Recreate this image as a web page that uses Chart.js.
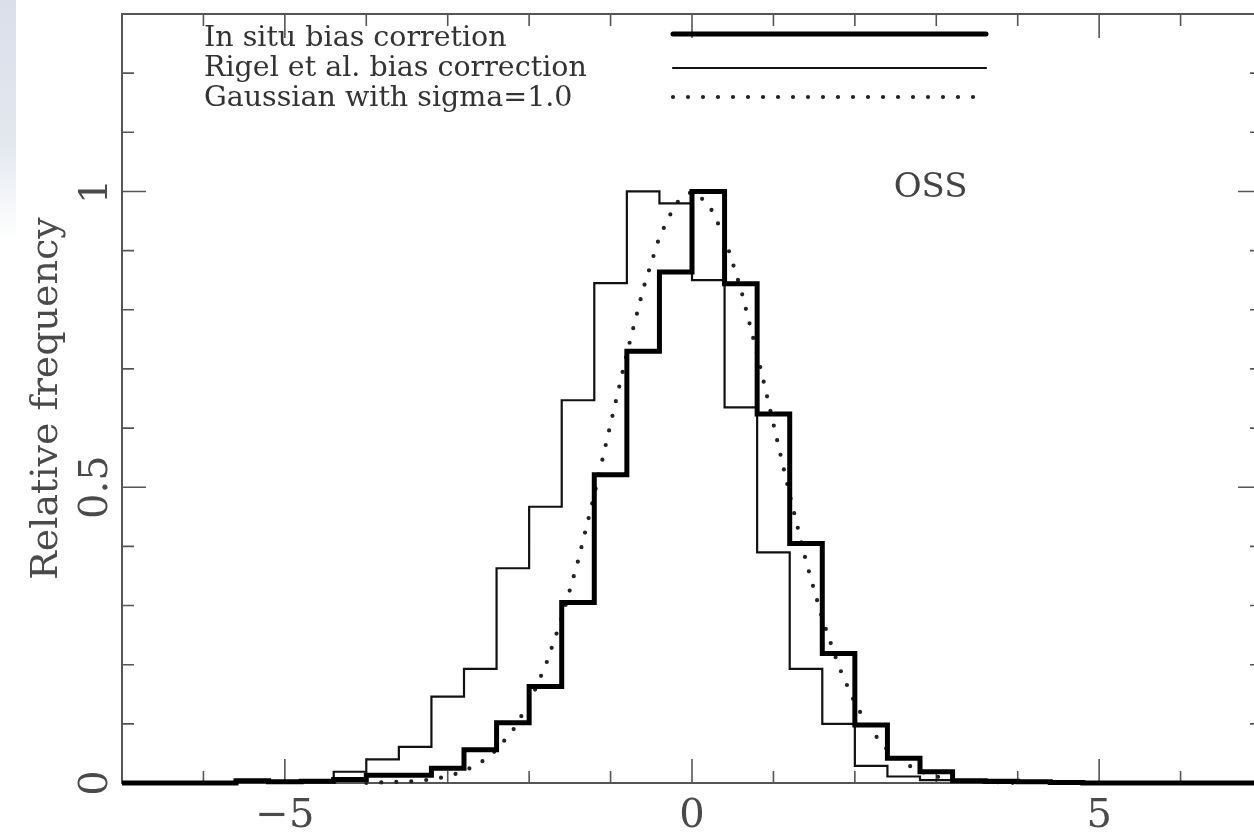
<!DOCTYPE html>
<html>
<head>
<meta charset="utf-8">
<title>OSS bias correction histogram</title>
<script src="https://cdn.jsdelivr.net/npm/chart.js@4.4.0/dist/chart.umd.min.js"></script>
<style>
  html, body { margin: 0; padding: 0; background: #fff; overflow: hidden; }
  #wrap { position: relative; width: 1270px; height: 833px; }
  #shade {
    position: absolute; left: 0; top: 0; width: 16px; height: 240px;
    background: linear-gradient(to bottom, #d9e0ea 0%, #e3e8ef 60%, rgba(255,255,255,0) 100%);
  }
  canvas { position: absolute; left: 0; top: 0; }
</style>
</head>
<body>
<div id="wrap">
  <canvas id="chart-area" width="1270" height="833"></canvas>
  <div id="shade"></div>
</div>
<script>
// left edge of every 0.4-wide bin
var binEdges = [-7.2, -6.8, -6.4, -6.0, -5.6, -5.2, -4.8, -4.4, -4.0, -3.6, -3.2, -2.8,
  -2.4, -2.0, -1.6, -1.2, -0.8, -0.4, 0.0, 0.4, 0.8, 1.2, 1.6, 2.0, 2.4, 2.8, 3.2, 3.6,
  4.0, 4.4, 4.8, 5.2, 5.6, 6.0, 6.4, 6.8];
var binWidth = 0.4;

// In situ bias corretion (thick)
var inSitu = [0, 0, 0, 0, 0.004, 0.002, 0.003, 0.006, 0.013, 0.013, 0.025, 0.056,
  0.102, 0.163, 0.305, 0.521, 0.730, 0.864, 1.000, 0.844, 0.624, 0.405, 0.219, 0.098,
  0.042, 0.019, 0.004, 0.003, 0.002, 0.001, 0, 0, 0, 0, 0, 0];

// Rigel et al. bias correction (thin)
var rigel = [0, 0, 0, 0, 0.005, 0.002, 0.003, 0.019, 0.040, 0.061, 0.146, 0.193,
  0.363, 0.467, 0.647, 0.845, 1.000, 0.980, 0.850, 0.635, 0.390, 0.193, 0.100, 0.029,
  0.011, 0.005, 0.002, 0, 0, 0, 0, 0, 0, 0, 0, 0];

// Gaussian with sigma=1.0 (dotted)
var gaussX = [-4.0, -3.8, -3.6, -3.4, -3.2, -3.0, -2.8, -2.6, -2.4, -2.2, -2.0, -1.8,
  -1.6, -1.4, -1.2, -1.0, -0.8, -0.6, -0.4, -0.2, 0.0, 0.2, 0.4, 0.6, 0.8, 1.0, 1.2,
  1.4, 1.6, 1.8, 2.0, 2.2, 2.4, 2.6, 2.8, 3.0, 3.2, 3.4, 3.6, 3.8, 4.0];
var gaussY = [0.000, 0.001, 0.002, 0.003, 0.006, 0.011, 0.020, 0.034, 0.056, 0.089,
  0.135, 0.198, 0.278, 0.375, 0.487, 0.607, 0.726, 0.835, 0.923, 0.980, 1.000, 0.980,
  0.923, 0.835, 0.726, 0.607, 0.487, 0.375, 0.278, 0.198, 0.135, 0.089, 0.056, 0.034,
  0.020, 0.011, 0.006, 0.003, 0.002, 0.001, 0.000];

var xMajorTicks = [-5, 0, 5];
var xTickLabels = ["\u22125", "0", "5"];
var xMinorTicks = [-7, -6, -5, -4, -3, -2, -1, 0, 1, 2, 3, 4, 5, 6, 7];
var yMajorTicks = [0, 0.5, 1];
var yTickLabels = ["0", "0.5", "1"];
var yMinorTicks = [0, 0.1, 0.2, 0.3, 0.4, 0.5, 0.6, 0.7, 0.8, 0.9, 1.0, 1.1, 1.2, 1.3];

var serif = '"DejaVu Serif", "Liberation Serif", serif';
var inkGray = "#4a4a4a";

function histPoints(vals) {
  var pts = binEdges.map(function (x, i) { return { x: x, y: vals[i] }; });
  var last = binEdges.length - 1;
  pts.push({ x: binEdges[last] + binWidth, y: vals[last] });
  return pts;
}

// frame, inward ticks on all four sides, rotated y labels
var framePlugin = {
  id: "frame",
  beforeDatasetsDraw: function (chart) {
    var ctx = chart.ctx;
    var a = chart.chartArea;
    var xs = chart.scales.x;
    var ys = chart.scales.y;
    ctx.save();
    ctx.strokeStyle = "#555";
    ctx.lineWidth = 2;
    ctx.strokeRect(a.left, a.top, a.right - a.left, a.bottom - a.top);

    ctx.lineWidth = 1.6;
    ctx.beginPath();
    xMinorTicks.forEach(function (v) {
      var px = xs.getPixelForValue(v);
      var len = xMajorTicks.indexOf(v) >= 0 ? 24 : 12;
      ctx.moveTo(px, a.bottom); ctx.lineTo(px, a.bottom - len);
      ctx.moveTo(px, a.top); ctx.lineTo(px, a.top + len);
    });
    yMinorTicks.forEach(function (v) {
      var py = ys.getPixelForValue(v);
      var len = yMajorTicks.indexOf(v) >= 0 ? 24 : 12;
      ctx.moveTo(a.left, py); ctx.lineTo(a.left + len, py);
      ctx.moveTo(a.right, py); ctx.lineTo(a.right - len, py);
    });
    ctx.stroke();

    ctx.fillStyle = inkGray;
    ctx.font = "40px " + serif;
    ctx.textAlign = "center";
    ctx.textBaseline = "middle";
    yMajorTicks.forEach(function (v, i) {
      ctx.save();
      ctx.translate(a.left - 25, ys.getPixelForValue(v));
      ctx.rotate(-Math.PI / 2);
      ctx.fillText(yTickLabels[i], 0, 0);
      ctx.restore();
    });
    ctx.restore();
  },
  afterDatasetsDraw: function (chart) {
    var ctx = chart.ctx;
    var xs = chart.scales.x;
    var ys = chart.scales.y;
    ctx.save();
    // legend rows: text on the left, line sample on the right
    var rows = [39, 69, 99];
    var sampleY = [34, 68, 97];
    ctx.font = "28.5px " + serif;
    ctx.fillStyle = "#333";
    ctx.textAlign = "left";
    ctx.textBaseline = "middle";
    chart.data.datasets.forEach(function (ds, i) {
      ctx.fillText(ds.label, 204, rows[i]);
      ctx.save();
      ctx.strokeStyle = ds.borderColor;
      ctx.lineWidth = ds.borderWidth;
      ctx.lineCap = ds.borderCapStyle || "round";
      ctx.setLineDash(ds.borderDash || []);
      ctx.beginPath();
      ctx.moveTo(673, sampleY[i]);
      ctx.lineTo(ds.borderDash ? 976 : 986, sampleY[i]);
      ctx.stroke();
      ctx.restore();
    });
    // panel name
    ctx.font = "34px " + serif;
    ctx.fillStyle = "#444";
    ctx.textAlign = "center";
    ctx.fillText("OSS", xs.getPixelForValue(2.93), ys.getPixelForValue(1.005));
    ctx.restore();
  }
};

var config = {
  type: "line",
  data: {
    datasets: [
      {
        label: "In situ bias corretion",
        data: histPoints(inSitu),
        stepped: true,
        borderColor: "#000",
        borderWidth: 5,
        borderCapStyle: "round",
        pointRadius: 0,
        clip: { left: 0, top: 0, right: 0, bottom: 4 },
      },
      {
        label: "Rigel et al. bias correction",
        data: histPoints(rigel),
        stepped: true,
        borderColor: "#111",
        borderWidth: 2.2,
        borderCapStyle: "round",
        pointRadius: 0,
        clip: { left: 0, top: 0, right: 0, bottom: 4 },
      },
      {
        label: "Gaussian with sigma=1.0",
        data: gaussX.map(function (x, i) { return { x: x, y: gaussY[i] }; }),
        borderColor: "#222",
        borderWidth: 4.2,
        borderDash: [0, 15],
        borderCapStyle: "round",
        pointRadius: 0,
        clip: { left: 0, top: 0, right: 0, bottom: 4 },
      },
    ],
  },
  options: {
    responsive: false,
    animation: false,
    layout: { padding: { top: 14, right: 8, left: 0, bottom: 0 } },
    plugins: {
      legend: { display: false },
      tooltip: { enabled: false },
    },
    scales: {
      x: {
        type: "linear",
        min: -7,
        max: 7,
        grid: { display: false, drawTicks: false },
        border: { display: false },
        afterBuildTicks: function (scale) {
          scale.ticks = xMajorTicks.map(function (v) { return { value: v }; });
        },
        afterFit: function (scale) { scale.height = 50; },
        ticks: {
          padding: 10,
          color: inkGray,
          font: { family: serif, size: 40 },
          maxRotation: 0,
          callback: function (value) {
            var i = xMajorTicks.indexOf(value);
            return i >= 0 ? xTickLabels[i] : "";
          },
        },
      },
      y: {
        type: "linear",
        min: 0,
        max: 1.3,
        grid: { display: false, drawTicks: false },
        border: { display: false },
        ticks: { display: false },
        afterFit: function (scale) { scale.width = 122; },
        title: {
          display: true,
          text: "Relative frequency",
          color: inkGray,
          font: { family: serif, size: 38 },
          padding: { top: 24, bottom: 0 },
        },
      },
    },
  },
  plugins: [framePlugin],
};

var ctx = document.getElementById("chart-area").getContext("2d");
window.chart = new Chart(ctx, config);
</script>
</body>
</html>
